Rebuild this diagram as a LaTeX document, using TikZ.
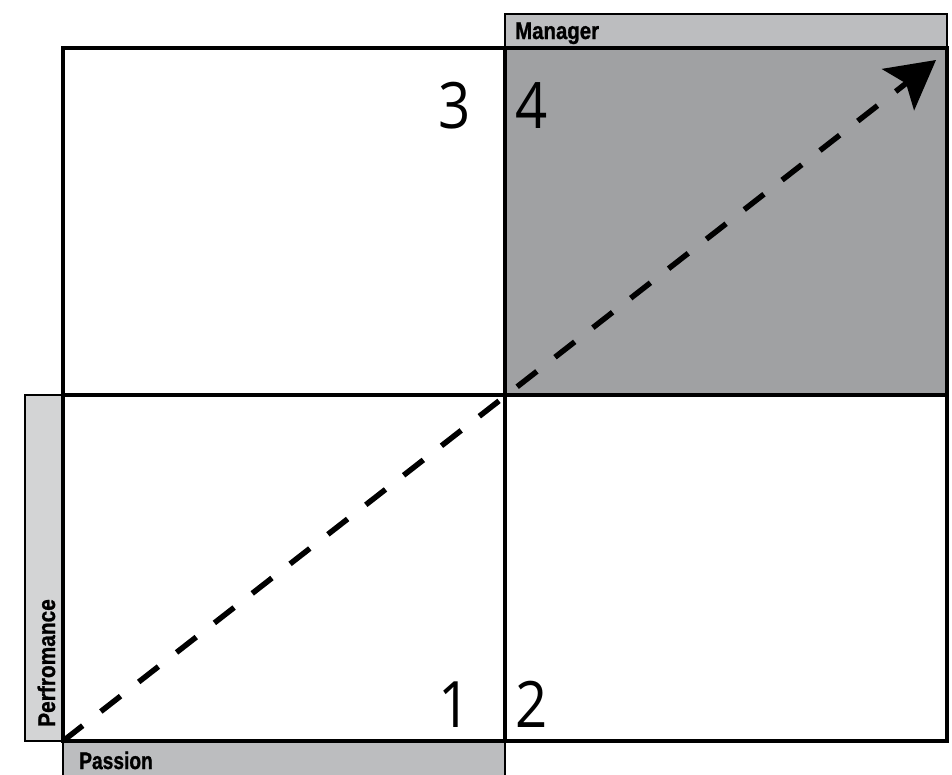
\documentclass[tikz,border=0pt]{standalone}
\usepackage{fontspec}
\setmainfont{Liberation Sans}
\newfontfamily\labfont{Liberation Sans}[BoldFeatures={FakeBold=1.2}]
\newfontfamily\numfont{Open Sans}
\usetikzlibrary{arrows.meta}
\definecolor{labgray}{HTML}{BCBDBF}
\definecolor{sidegray}{HTML}{D3D4D5}
\definecolor{quadgray}{HTML}{A0A1A3}
\tikzset{
  quad/.style={draw=black, line width=3.5pt, minimum width=442pt, inner sep=0pt, outer sep=0pt, anchor=north west},
  labbox/.style={draw=black, line width=1.5pt, fill=labgray, inner sep=0pt, outer sep=0pt},
  labtext/.style={font=\labfont\bfseries\fontsize{24}{24}\selectfont, inner sep=0pt},
  numtext/.style={font=\numfont\fontsize{64}{64}\selectfont, inner sep=0pt},
  dasharrow/.style={line width=5.5pt, dash pattern=on 25pt off 23pt, -{Stealth[length=48pt, width=52pt, inset=10pt]}}
}
\begin{document}
\begin{tikzpicture}[x=1pt, y=-1pt]
\useasboundingbox (0,0) rectangle (952,774);
% label boxes
\node[labbox, minimum width=442pt, minimum height=34pt, anchor=south west] (mgr) at (505,48) {};
\node[labbox, minimum width=442pt, minimum height=36pt, anchor=north west] (pas) at (63,741) {};
\node[labbox, fill=sidegray, minimum width=38pt, minimum height=346pt, anchor=south east] (perf) at (63,741) {};
% quadrants
\node[quad, minimum height=347pt] (q3) at (63,48) {};
\node[quad, fill=quadgray, minimum height=347pt] (q4) at (505,48) {};
\node[quad, minimum height=346pt] (q1) at (63,395) {};
\node[quad, minimum height=346pt] (q2) at (505,395) {};
% labels
\node[labtext, anchor=base west] (tm) at (515,39) {\scalebox{0.85}[1]{Manager}};
\node[labtext, anchor=base west] (tp) at (79,769) {\scalebox{0.8}[1]{Passion}};
\node[labtext, anchor=base west, rotate=90] (tf) at (55,727) {\scalebox{0.87}[1]{Perfromance}};
% numbers
\node[numtext, anchor=base east] (n3) at (471,128) {\scalebox{0.88}[1]{3}};
\node[numtext, anchor=base west] (n4) at (515,128) {\scalebox{0.88}[1]{4}};
\node[numtext, anchor=base east] (n1) at (471,727) {\scalebox{0.88}[1]{1}};
\node[numtext, anchor=base west] (n2) at (515,727) {\scalebox{0.88}[1]{2}};
% arrow
\coordinate (tip) at (936,60);
\draw[dasharrow] (q1.south west) -- (tip);
\end{tikzpicture}
\end{document}
